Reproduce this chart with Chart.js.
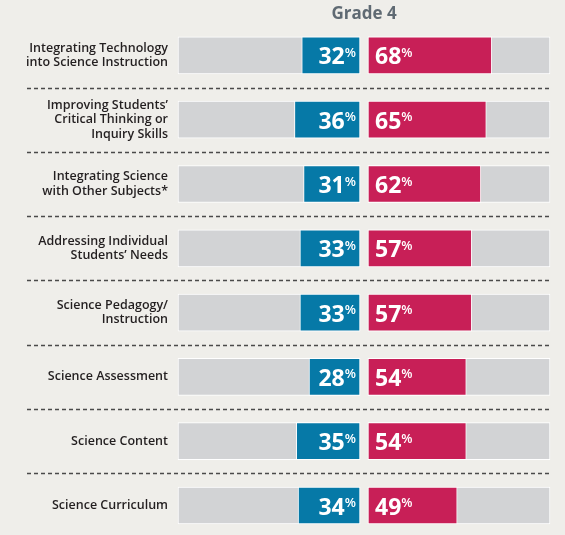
<!DOCTYPE html>
<html>
<head>
<meta charset="utf-8">
<script src="https://cdn.jsdelivr.net/npm/chart.js@4"></script>
<style>
    html, body { margin: 0; padding: 0; background: #efeeea; }
    #wrap { position: relative; width: 565px; height: 535px; }
</style>
</head>
<body>
<div id="wrap"><canvas id="chart"></canvas></div>
<script>
// Data
const categories = [
    ['Integrating Technology', 'into Science Instruction'],
    ['Improving Students\u2019', 'Critical Thinking or', 'Inquiry Skills'],
    ['Integrating Science', 'with Other Subjects*'],
    ['Addressing Individual', 'Students\u2019 Needs'],
    ['Science Pedagogy/', 'Instruction'],
    'Science Assessment',
    'Science Content',
    'Science Curriculum'
];
const blueValues = [32, 36, 31, 33, 33, 28, 35, 34];
const redValues = [68, 65, 62, 57, 57, 54, 54, 49];
const titleText = 'Grade 4';

const FULL = 100;
const GAP = 4.4; // space between the two tracks, in value units

const BLUE = '#0679a7';
const RED = '#c81f57';
const TRACK = '#d2d3d5';
const FONT = "'Open Sans', 'Noto Sans', sans-serif";

// dashed separators between rows
const separatorPlugin = {
    id: 'separators',
    afterDraw(chart) {
        const ctx = chart.ctx;
        const y = chart.scales.y;
        ctx.save();
        ctx.strokeStyle = '#4a4a4a';
        ctx.lineWidth = 1.3;
        ctx.setLineDash([4, 3]);
        for (let i = 0; i < categories.length - 1; i++) {
            const yy = Math.round((y.getPixelForTick(i) + y.getPixelForTick(i + 1)) / 2) + 0.5;
            ctx.beginPath();
            ctx.moveTo(27, yy);
            ctx.lineTo(chart.chartArea.right, yy);
            ctx.stroke();
        }
        ctx.restore();
    }
};

// white percentage labels with superscript %
const valueLabelPlugin = {
    id: 'valueLabels',
    afterDatasetsDraw(chart) {
        const ctx = chart.ctx;
        const x = chart.scales.x;
        const y = chart.scales.y;
        ctx.save();
        ctx.fillStyle = '#ffffff';
        ctx.textBaseline = 'alphabetic';
        const numFont = 'bold 23px ' + FONT;
        const pctFont = '600 13px ' + FONT;

        blueValues.forEach((v, i) => {
            const cy = y.getPixelForValue(i);
            const right = x.getPixelForValue(0) - 4;
            ctx.font = pctFont;
            const pw = ctx.measureText('%').width;
            ctx.textAlign = 'right';
            ctx.fillText('%', right, cy + 1.5);
            ctx.font = numFont;
            ctx.fillText(String(v), right - pw, cy + 9);
        });

        redValues.forEach((v, i) => {
            const cy = y.getPixelForValue(i);
            const left = x.getPixelForValue(GAP) + 7;
            ctx.font = numFont;
            ctx.textAlign = 'left';
            const nw = ctx.measureText(String(v)).width;
            ctx.fillText(String(v), left, cy + 9);
            ctx.font = pctFont;
            ctx.fillText('%', left + nw, cy + 1.5);
        });
        ctx.restore();
    }
};

const barCommon = {
    grouped: false,
    barThickness: 37,
    borderColor: '#ffffff',
    borderWidth: 1,
    borderSkipped: false,
    clip: false
};

new Chart(document.getElementById('chart'), {
    type: 'bar',
    data: {
        labels: categories,
        datasets: [
            Object.assign({ label: 'blue', data: blueValues.map(v => [-v, 0]), backgroundColor: BLUE, order: 1 }, barCommon),
            Object.assign({ label: 'red', data: redValues.map(v => [GAP, GAP + v]), backgroundColor: RED, order: 1 }, barCommon),
            Object.assign({ label: 'trackL', data: blueValues.map(() => [-FULL, 0]), backgroundColor: TRACK, order: 2 }, barCommon),
            Object.assign({ label: 'trackR', data: redValues.map(() => [GAP, GAP + FULL]), backgroundColor: TRACK, order: 2 }, barCommon)
        ]
    },
    options: {
        indexAxis: 'y',
        responsive: true,
        maintainAspectRatio: false,
        animation: false,
        layout: { padding: { top: 0, right: 15, bottom: 29.5, left: 0 } },
        plugins: {
            legend: { display: false },
            tooltip: { enabled: false },
            title: {
                display: true,
                text: titleText,
                fullSize: false,
                color: '#5f6a73',
                font: { family: FONT, size: 17, weight: 'bold', lineHeight: 1.2 },
                padding: { top: 4, bottom: 31 }
            }
        },
        scales: {
            x: {
                type: 'linear',
                min: -FULL,
                max: GAP + FULL,
                display: false
            },
            y: {
                type: 'category',
                offset: false,
                grid: { display: false },
                border: { display: false },
                ticks: {
                    autoSkip: false,
                    padding: 2,
                    color: '#231f20',
                    font: { family: FONT, size: 12.5, weight: '600', lineHeight: 1.15 }
                },
                afterFit(scale) { scale.width = 178; }
            }
        }
    },
    plugins: [separatorPlugin, valueLabelPlugin]
});
</script>
</body>
</html>
